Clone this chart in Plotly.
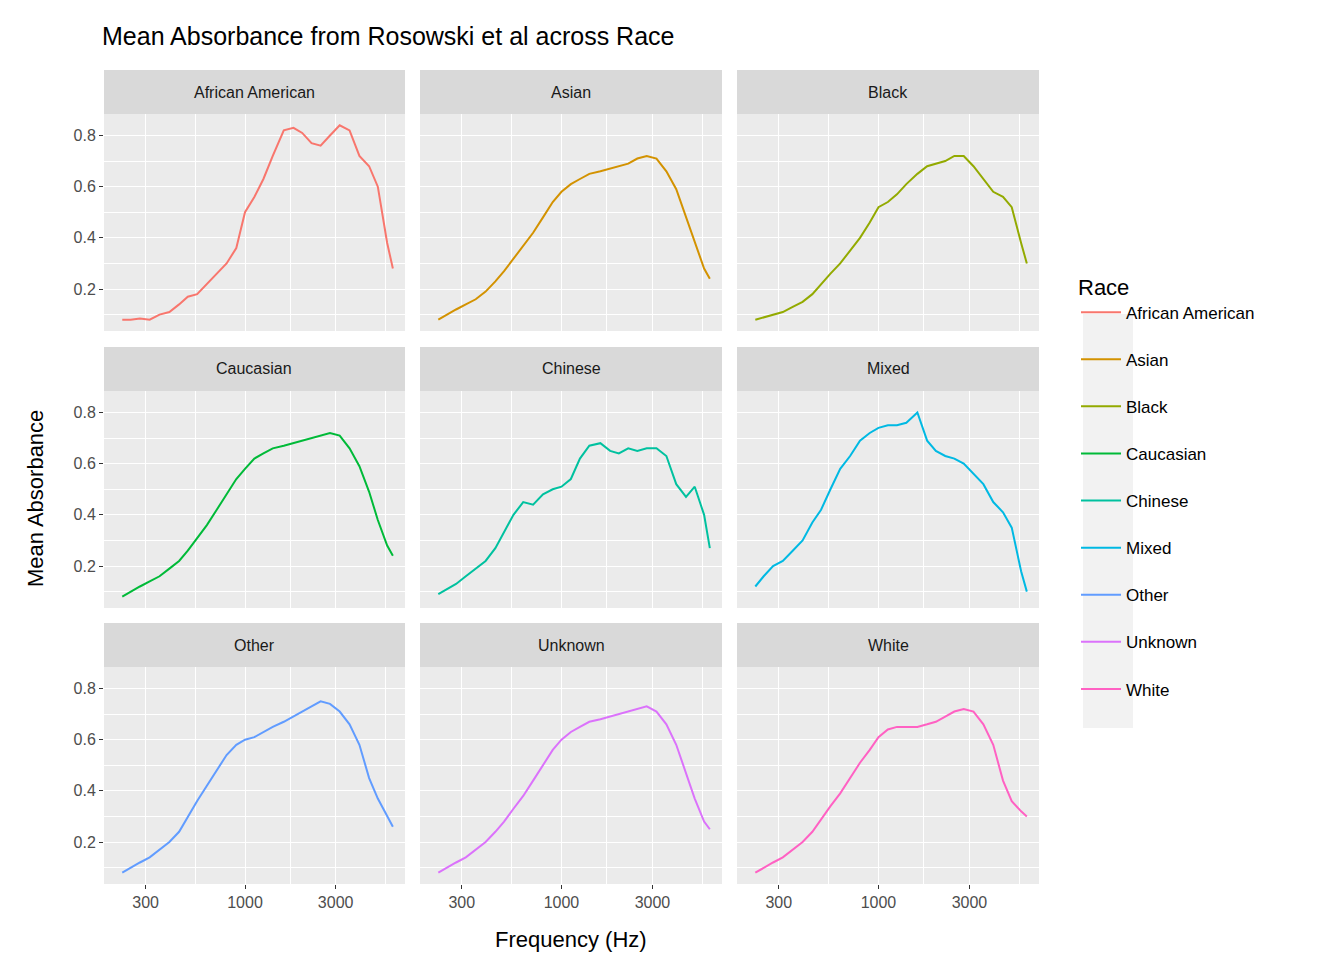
import plotly.graph_objects as go

W, H = 1344, 960

freq = [226, 250, 280, 315, 355, 400, 450, 500, 560, 630, 710, 800, 900, 1000, 1120,
        1250, 1400, 1600, 1800, 2000, 2240, 2500, 2800, 3150, 3550, 4000, 4500, 5000, 5600, 6000]

races = ["African American", "Asian", "Black", "Caucasian", "Chinese",
         "Mixed", "Other", "Unknown", "White"]
colors = ["#F8766D", "#D39200", "#93AA00", "#00BA38", "#00C19F",
          "#00B9E3", "#619CFF", "#DB72FB", "#FF61C3"]

african_american = [0.08, 0.08, 0.085, 0.08, 0.10, 0.11, 0.14, 0.17, 0.18, 0.22, 0.26, 0.30, 0.36, 0.50, 0.56,
                    0.63, 0.72, 0.82, 0.83, 0.81, 0.77, 0.76, 0.80, 0.84, 0.82, 0.72, 0.68, 0.60, 0.38, 0.28]
asian = [0.08, 0.10, 0.12, 0.14, 0.16, 0.19, 0.23, 0.27, 0.32, 0.37, 0.42, 0.48, 0.54, 0.58, 0.61,
         0.63, 0.65, 0.66, 0.67, 0.68, 0.69, 0.71, 0.72, 0.71, 0.66, 0.59, 0.48, 0.38, 0.28, 0.24]
black = [0.08, 0.09, 0.10, 0.11, 0.13, 0.15, 0.18, 0.22, 0.26, 0.30, 0.35, 0.40, 0.46, 0.52, 0.54,
         0.57, 0.61, 0.65, 0.68, 0.69, 0.70, 0.72, 0.72, 0.68, 0.63, 0.58, 0.56, 0.52, 0.38, 0.30]
caucasian = [0.08, 0.10, 0.12, 0.14, 0.16, 0.19, 0.22, 0.26, 0.31, 0.36, 0.42, 0.48, 0.54, 0.58, 0.62,
             0.64, 0.66, 0.67, 0.68, 0.69, 0.70, 0.71, 0.72, 0.71, 0.66, 0.59, 0.49, 0.38, 0.28, 0.24]
chinese = [0.09, 0.11, 0.13, 0.16, 0.19, 0.22, 0.27, 0.33, 0.40, 0.45, 0.44, 0.48, 0.50, 0.51, 0.54,
           0.62, 0.67, 0.68, 0.65, 0.64, 0.66, 0.65, 0.66, 0.66, 0.63, 0.52, 0.47, 0.51, 0.40, 0.27]
mixed = [0.12, 0.16, 0.20, 0.22, 0.26, 0.30, 0.37, 0.42, 0.50, 0.58, 0.63, 0.69, 0.72, 0.74, 0.75,
         0.75, 0.76, 0.80, 0.69, 0.65, 0.63, 0.62, 0.60, 0.56, 0.52, 0.45, 0.41, 0.35, 0.18, 0.10]
other = [0.08, 0.10, 0.12, 0.14, 0.17, 0.20, 0.24, 0.30, 0.36, 0.42, 0.48, 0.54, 0.58, 0.60, 0.61,
         0.63, 0.65, 0.67, 0.69, 0.71, 0.73, 0.75, 0.74, 0.71, 0.66, 0.58, 0.45, 0.37, 0.30, 0.26]
unknown = [0.08, 0.10, 0.12, 0.14, 0.17, 0.20, 0.24, 0.28, 0.33, 0.38, 0.44, 0.50, 0.56, 0.60, 0.63,
           0.65, 0.67, 0.68, 0.69, 0.70, 0.71, 0.72, 0.73, 0.71, 0.66, 0.58, 0.47, 0.37, 0.28, 0.25]
white = [0.08, 0.10, 0.12, 0.14, 0.17, 0.20, 0.24, 0.29, 0.34, 0.39, 0.45, 0.51, 0.56, 0.61, 0.64,
         0.65, 0.65, 0.65, 0.66, 0.67, 0.69, 0.71, 0.72, 0.71, 0.66, 0.58, 0.44, 0.36, 0.32, 0.30]
values = [african_american, asian, black, caucasian, chinese, mixed, other, unknown, white]

x_ticks = [300, 1000, 3000]
x_minor = [164, 548, 1732, 5477]
y_ticks = [0.2, 0.4, 0.6, 0.8]
y_minor = [0.1, 0.3, 0.5, 0.7]

# panel pixel boxes
cols_px = [(96, 397), (412, 714), (729, 1031)]
rows_px = [(106, 323), (383, 600), (659, 876)]
strip_h = 44

fig = go.Figure()
shapes, annos = [], []
for i, race in enumerate(races):
    r, c = divmod(i, 3)
    n = i + 1
    xa = "xaxis" if n == 1 else f"xaxis{n}"
    ya = "yaxis" if n == 1 else f"yaxis{n}"
    x0, x1 = cols_px[c]
    y0, y1 = rows_px[r]
    fig.add_trace(go.Scatter(x=freq, y=values[i], mode="lines", name=race, legendgroup=race,
                             line=dict(color=colors[i], width=2),
                             xaxis=f"x{n}" if n > 1 else "x", yaxis=f"y{n}" if n > 1 else "y"))
    fig.layout[xa] = dict(type="log", domain=[x0 / W, x1 / W], range=[2.258, 3.842],
                          anchor=f"y{n}" if n > 1 else "y",
                          tickvals=x_ticks, ticktext=["300", "1000", "3000"],
                          showticklabels=(r == 2), ticks="outside" if r == 2 else "",
                          ticklen=4, tickcolor="#333333", gridcolor="white", gridwidth=1.4,
                          minor=dict(tickvals=x_minor, showgrid=True, gridcolor="white", gridwidth=0.6, ticks=""),
                          zeroline=False, showline=False,
                          tickfont=dict(size=16, color="#4D4D4D"))
    fig.layout[ya] = dict(domain=[1 - y1 / H, 1 - y0 / H], range=[0.036, 0.884],
                          anchor=f"x{n}" if n > 1 else "x",
                          tickvals=y_ticks, ticktext=["0.2", "0.4", "0.6", "0.8"],
                          showticklabels=(c == 0), ticks="outside" if c == 0 else "",
                          ticklen=4, tickcolor="#333333", gridcolor="white", gridwidth=1.4,
                          minor=dict(tickvals=y_minor, showgrid=True, gridcolor="white", gridwidth=0.6, ticks=""),
                          zeroline=False, showline=False,
                          tickfont=dict(size=16, color="#4D4D4D"))
    shapes.append(dict(type="rect", xref="paper", yref="paper", layer="below",
                       x0=x0 / W, x1=x1 / W, y0=1 - y1 / H, y1=1 - y0 / H,
                       fillcolor="#EBEBEB", line=dict(width=0)))
    shapes.append(dict(type="rect", xref="paper", yref="paper",
                       x0=x0 / W, x1=x1 / W, y0=1 - y0 / H, y1=1 - (y0 - strip_h) / H,
                       fillcolor="#D9D9D9", line=dict(width=0)))
    annos.append(dict(text=race, xref="paper", yref="paper", x=(x0 + x1) / 2 / W,
                      y=1 - (y0 - strip_h / 2) / H, showarrow=False,
                      xanchor="center", yanchor="middle",
                      font=dict(size=16, color="#1A1A1A")))

# legend key background column
shapes.append(dict(type="rect", xref="paper", yref="paper", layer="below",
                   x0=1075 / W, x1=1125 / W, y0=1 - 720 / H, y1=1 - 306 / H,
                   fillcolor="#F2F2F2", line=dict(width=0)))

annos.append(dict(text="Frequency (Hz)", xref="paper", yref="paper", x=563 / W, y=1 - 931 / H,
                  showarrow=False, xanchor="center", yanchor="middle",
                  font=dict(size=22, color="black")))
annos.append(dict(text="Mean Absorbance", xref="paper", yref="paper", x=27 / W, y=1 - 491 / H,
                  showarrow=False, textangle=-90, xanchor="center", yanchor="middle",
                  font=dict(size=22, color="black")))

fig.update_layout(
    width=W, height=H, margin=dict(l=0, r=0, t=0, b=0, autoexpand=False),
    paper_bgcolor="white", plot_bgcolor="rgba(0,0,0,0)",
    font=dict(family="Liberation Sans, Arial, sans-serif"),
    title=dict(text="Mean Absorbance from Rosowski et al across Race", x=94 / W, xanchor="left",
               y=1 - 28 / H, yanchor="middle", font=dict(size=25, color="black")),
    shapes=shapes, annotations=annos,
    legend=dict(x=1068 / W, y=1 - 258 / H, xanchor="left", yanchor="top",
                title=dict(text="Race", font=dict(size=22, color="black")),
                font=dict(size=17, color="black"), bgcolor="rgba(0,0,0,0)",
                tracegroupgap=22, itemwidth=40),
)

fig.write_html("out.html")
